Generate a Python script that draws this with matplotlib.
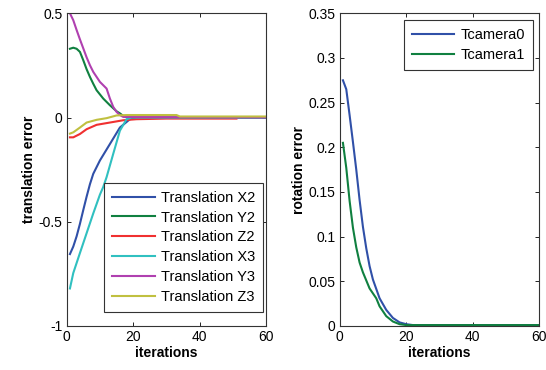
import matplotlib.pyplot as plt
from matplotlib.ticker import FormatStrFormatter

plt.rcParams["font.family"] = ["Liberation Sans", "DejaVu Sans"]
plt.rcParams["font.size"] = 10

# translation error per camera axis
x2_it = [1, 2, 3, 4, 5, 6, 7, 8, 10, 13, 16, 19, 21, 60]
x2_err = [-0.655, -0.619, -0.57, -0.51, -0.444, -0.38, -0.32, -0.27,
          -0.206, -0.127, -0.048, -0.008, 0.0, 0.0]
y2_it = [1, 2, 3, 4, 5, 6, 7, 8, 9, 11, 13, 15, 16, 17, 18, 60]
y2_err = [0.33, 0.335, 0.33, 0.315, 0.275, 0.232, 0.195, 0.162, 0.131,
          0.091, 0.059, 0.03, 0.02, 0.008, 0.001, 0.0]
z2_it = [1, 2, 4, 6, 9, 13, 17, 21, 30, 51]
z2_err = [-0.095, -0.095, -0.079, -0.056, -0.035, -0.024, -0.013, -0.008,
          -0.005, -0.005]
x3_it = [1, 2, 4, 6, 8, 10, 11, 12, 14, 16, 18, 19.5, 60]
x3_err = [-0.82, -0.746, -0.65, -0.555, -0.46, -0.37, -0.333, -0.286,
          -0.174, -0.063, -0.008, 0.0, 0.0]
y3_it = [1, 2, 3, 4, 5, 6, 7, 8, 10, 12, 13, 14, 15, 16, 17, 60]
y3_err = [0.5, 0.467, 0.42, 0.375, 0.332, 0.289, 0.251, 0.219, 0.171,
          0.139, 0.091, 0.051, 0.027, 0.012, 0.003, 0.0]
z3_it = [1, 2, 4, 6, 9, 12, 15, 18, 33, 34, 60]
z3_err = [-0.077, -0.071, -0.048, -0.024, -0.011, -0.003, 0.01, 0.012,
          0.012, 0.005, 0.005]

# rotation error per camera
t0_it = [1, 2, 3, 4, 5, 6, 7, 8, 9, 10, 12, 14, 16, 18, 20, 22, 60]
t0_err = [0.275, 0.265, 0.236, 0.206, 0.175, 0.141, 0.111, 0.087, 0.067,
          0.052, 0.031, 0.018, 0.009, 0.004, 0.002, 0.001, 0.001]
t1_it = [1, 2, 3, 4, 5, 6, 7, 9, 11, 12, 14, 16, 18, 20, 60]
t1_err = [0.205, 0.177, 0.14, 0.11, 0.088, 0.071, 0.06, 0.042, 0.031,
          0.022, 0.011, 0.005, 0.002, 0.001, 0.001]

BLUE = "#3050a8"
GREEN = "#108040"
RED = "#f03030"
CYAN = "#30c0c0"
MAGENTA = "#b040b0"
YELLOW = "#c0c040"

fig = plt.figure(figsize=(5.46, 3.70), dpi=100)
ax1 = fig.add_axes([0.122, 0.119, 0.366, 0.845])
ax2 = fig.add_axes([0.622, 0.119, 0.366, 0.845])

lw = 1.5
ax1.plot(x2_it, x2_err, color=BLUE, lw=lw, label="Translation X2")
ax1.plot(y2_it, y2_err, color=GREEN, lw=lw, label="Translation Y2")
ax1.plot(z2_it, z2_err, color=RED, lw=lw, label="Translation Z2")
ax1.plot(x3_it, x3_err, color=CYAN, lw=lw, label="Translation X3")
ax1.plot(y3_it, y3_err, color=MAGENTA, lw=lw, label="Translation Y3")
ax1.plot(z3_it, z3_err, color=YELLOW, lw=lw, label="Translation Z3")
ax1.set_xlim(0, 60)
ax1.set_ylim(-1, 0.5)
ax1.set_yticks([-1, -0.5, 0, 0.5])
ax1.set_ylabel("translation error", fontweight="bold", labelpad=2)

ax2.plot(t0_it, t0_err, color=BLUE, lw=lw, label="Tcamera0")
ax2.plot(t1_it, t1_err, color=GREEN, lw=lw, label="Tcamera1")
ax2.set_xlim(0, 60)
ax2.set_ylim(0, 0.35)
ax2.set_yticks([0, 0.05, 0.1, 0.15, 0.2, 0.25, 0.3, 0.35])
ax2.set_ylabel("rotation error", fontweight="bold", labelpad=2)

for ax in (ax1, ax2):
    ax.set_xticks([0, 20, 40, 60])
    ax.yaxis.set_major_formatter(FormatStrFormatter("%g"))
    ax.set_xlabel("iterations", fontweight="bold", labelpad=1)
    ax.tick_params(direction="in", top=True, right=True, length=3,
                   width=0.6, labelsize=10, pad=3)
    for s in ax.spines.values():
        s.set_linewidth(0.8)
        s.set_color("#333333")

leg_kw = dict(fancybox=False, edgecolor="#333333", framealpha=1,
              handlelength=2.9, borderaxespad=0, fontsize=10.5,
              labelspacing=0.4, handletextpad=0.4, borderpad=0.55)
l1 = ax1.legend(loc="lower right", bbox_to_anchor=(0.982, 0.045), **leg_kw)
l2 = ax2.legend(loc="upper right", bbox_to_anchor=(0.967, 0.979), **leg_kw)
for lg in (l1, l2):
    lg.get_frame().set_linewidth(0.8)

fig.savefig("out.png", dpi=100)
